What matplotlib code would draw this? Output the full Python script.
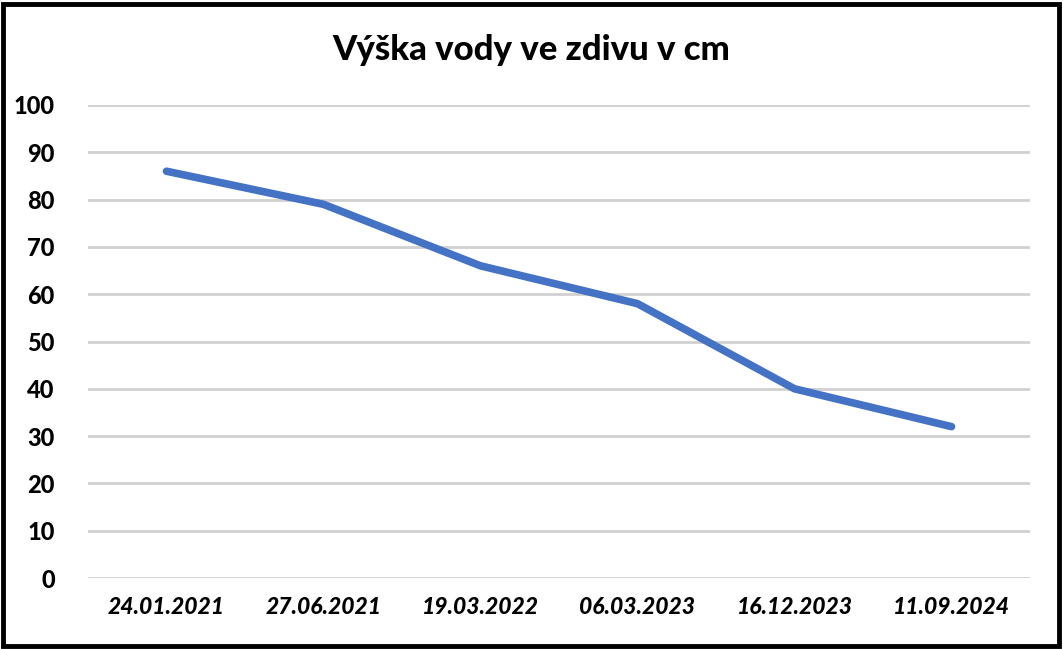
import matplotlib.pyplot as plt
from matplotlib.patches import Rectangle

# data
dates = ['24.01.2021', '27.06.2021', '19.03.2022', '06.03.2023', '16.12.2023', '11.09.2024']
height_cm = [86, 79, 66, 58, 40, 32]

plt.rcParams['font.family'] = ['Lato', 'DejaVu Sans']

fig = plt.figure(figsize=(10.63, 6.49), dpi=100)
ax = fig.add_axes([88 / 1063, 1 - 578 / 649, (1030 - 88) / 1063, (578 - 105) / 649])

x = range(len(dates))
ax.plot(x, height_cm, color='#4472C4', linewidth=5.5, solid_capstyle='round', solid_joinstyle='round')

ax.set_xlim(-0.5, len(dates) - 0.5)
ax.set_ylim(0, 100)
ax.set_yticks(range(0, 101, 10))
ax.set_xticks(list(x))
ax.set_xticklabels(dates, fontsize=16.5, fontweight='black', fontstyle='italic')
for lbl in ax.get_yticklabels():
    lbl.set_fontsize(17)
    lbl.set_fontweight('black')

ax.grid(axis='y', color='#D0D0D0', linewidth=2)
ax.set_axisbelow(True)
for s in ax.spines.values():
    s.set_visible(False)
ax.tick_params(length=0)
ax.tick_params(axis='y', pad=24)
ax.tick_params(axis='x', pad=14)

fig.text(0.5, 1 - 50 / 649, 'Výška vody ve zdivu v cm', ha='center', va='center',
         fontsize=25, fontweight='black')

# black frame round the whole chart
fig.patches.append(Rectangle((3 / 1063, 3 / 649), 1 - 7 / 1063, 1 - 7 / 649,
                             transform=fig.transFigure, fill=False,
                             edgecolor='black', linewidth=3.5))

fig.savefig('out.png', dpi=100)
